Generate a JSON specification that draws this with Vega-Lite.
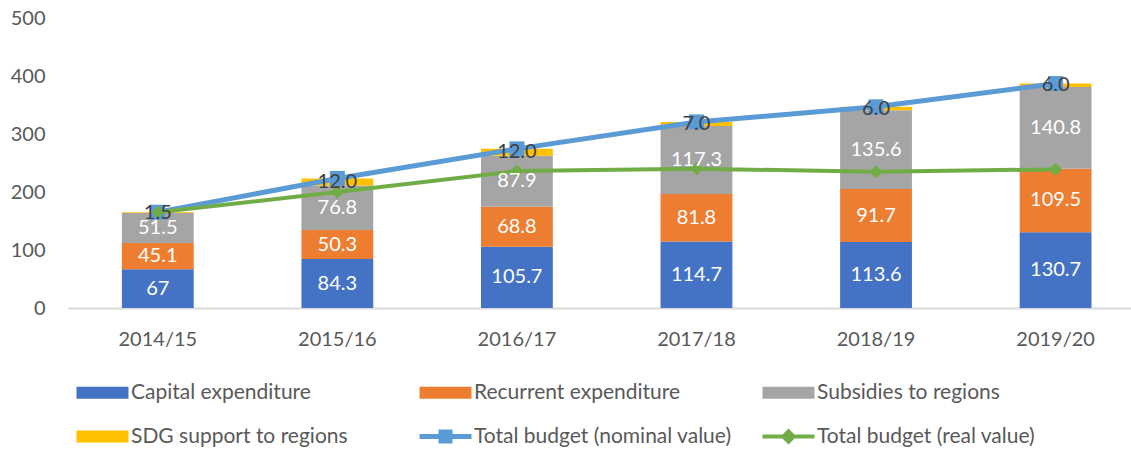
{
  "$schema": "https://vega.github.io/schema/vega-lite/v6.json",
  "width": 1063,
  "height": 290,
  "autosize": {"type": "none"},
  "padding": {"left": 68, "top": 18, "right": 0, "bottom": 142},
  "background": "white",
  "config": {"view": {"stroke": null}, "font": "Lato"},
  "datasets": {
    "bars": [
      {"year": "2014/15", "series": "Capital expenditure", "idx": 1, "value": 67},
      {"year": "2014/15", "series": "Recurrent expenditure", "idx": 2, "value": 45.1},
      {"year": "2014/15", "series": "Subsidies to regions", "idx": 3, "value": 51.5},
      {"year": "2014/15", "series": "SDG support to regions", "idx": 4, "value": 1.5},
      {"year": "2015/16", "series": "Capital expenditure", "idx": 1, "value": 84.3},
      {"year": "2015/16", "series": "Recurrent expenditure", "idx": 2, "value": 50.3},
      {"year": "2015/16", "series": "Subsidies to regions", "idx": 3, "value": 76.8},
      {"year": "2015/16", "series": "SDG support to regions", "idx": 4, "value": 12},
      {"year": "2016/17", "series": "Capital expenditure", "idx": 1, "value": 105.7},
      {"year": "2016/17", "series": "Recurrent expenditure", "idx": 2, "value": 68.8},
      {"year": "2016/17", "series": "Subsidies to regions", "idx": 3, "value": 87.9},
      {"year": "2016/17", "series": "SDG support to regions", "idx": 4, "value": 12},
      {"year": "2017/18", "series": "Capital expenditure", "idx": 1, "value": 114.7},
      {"year": "2017/18", "series": "Recurrent expenditure", "idx": 2, "value": 81.8},
      {"year": "2017/18", "series": "Subsidies to regions", "idx": 3, "value": 117.3},
      {"year": "2017/18", "series": "SDG support to regions", "idx": 4, "value": 7},
      {"year": "2018/19", "series": "Capital expenditure", "idx": 1, "value": 113.6},
      {"year": "2018/19", "series": "Recurrent expenditure", "idx": 2, "value": 91.7},
      {"year": "2018/19", "series": "Subsidies to regions", "idx": 3, "value": 135.6},
      {"year": "2018/19", "series": "SDG support to regions", "idx": 4, "value": 6},
      {"year": "2019/20", "series": "Capital expenditure", "idx": 1, "value": 130.7},
      {"year": "2019/20", "series": "Recurrent expenditure", "idx": 2, "value": 109.5},
      {"year": "2019/20", "series": "Subsidies to regions", "idx": 3, "value": 140.8},
      {"year": "2019/20", "series": "SDG support to regions", "idx": 4, "value": 6}
    ],
    "lines": [
      {"year": "2014/15", "series": "Total budget (nominal value)", "value": 165.1},
      {"year": "2015/16", "series": "Total budget (nominal value)", "value": 223.4},
      {"year": "2016/17", "series": "Total budget (nominal value)", "value": 274.4},
      {"year": "2017/18", "series": "Total budget (nominal value)", "value": 320.8},
      {"year": "2018/19", "series": "Total budget (nominal value)", "value": 346.9},
      {"year": "2019/20", "series": "Total budget (nominal value)", "value": 387.0},
      {"year": "2014/15", "series": "Total budget (real value)", "value": 165.1},
      {"year": "2015/16", "series": "Total budget (real value)", "value": 200},
      {"year": "2016/17", "series": "Total budget (real value)", "value": 236},
      {"year": "2017/18", "series": "Total budget (real value)", "value": 240},
      {"year": "2018/19", "series": "Total budget (real value)", "value": 235},
      {"year": "2019/20", "series": "Total budget (real value)", "value": 239}
    ]
  },
  "encoding": {
    "x": {
      "field": "year", "type": "ordinal",
      "scale": {"paddingInner": 0.6, "paddingOuter": 0.26, "align": 0.577},
      "axis": {"title": null, "labelAngle": 0, "ticks": false, "domainColor": "#D9D9D9", "domainWidth": 2, "labelPadding": 21, "labelFontSize": 20, "labelColor": "#595959", "labelFont": "Lato"}
    }
  },
  "layer": [
    {
      "data": {"name": "bars"},
      "transform": [{"stack": "value", "groupby": ["year"], "sort": [{"field": "idx", "order": "ascending"}], "as": ["v0", "v1"]}],
      "mark": {"type": "bar"},
      "encoding": {
        "y": {"field": "v0", "type": "quantitative", "scale": {"domain": [0, 500]},
              "axis": {"title": null, "values": [0, 100, 200, 300, 400, 500], "grid": false, "domain": false, "ticks": false, "tickSize": 0, "labelPadding": 23, "labelFontSize": 20, "labelColor": "#595959", "labelFont": "Lato"}},
        "y2": {"field": "v1"},
        "color": {
          "field": "series", "type": "nominal",
          "scale": {
            "domain": ["Capital expenditure", "Recurrent expenditure", "Subsidies to regions", "SDG support to regions", "Total budget (nominal value)", "Total budget (real value)"],
            "range": ["#4472C4", "#ED7D31", "#A5A5A5", "#FFC000", "#5B9BD5", "#70AD47"]
          },
          "legend": {
            "title": null, "orient": "none", "legendX": 4, "legendY": 364, "padding": 0,
            "direction": "horizontal",
            "columns": 3, "gridAlign": "all", "columnPadding": 26, "rowPadding": 22,
            "symbolSize": 144, "symbolOffset": 20, "labelOffset": 18, "symbolStrokeWidth": 0,
            "symbolType": "M-4.33,-1H4.33V1H-4.33Z",
            "labelFont": "Lato", "labelFontSize": 21, "labelColor": "#595959", "labelLimit": 400,
            "encode": {
              "symbols": {
                "update": {
                  "shape": [
                    {"test": "datum.value === 'Total budget (nominal value)'", "value": "M-4.33,-0.4H-1.17V-1.17H1.17V-0.4H4.33V0.4H1.17V1.17H-1.17V0.4H-4.33Z"},
                    {"test": "datum.value === 'Total budget (real value)'", "value": "M-4.33,-0.33H-1L0,-1.33L1,-0.33H4.33V0.33H1L0,1.33L-1,0.33H-4.33Z"},
                    {"value": "M-4.33,-1H4.33V1H-4.33Z"}
                  ],
                  "fill": {"scale": "color", "field": "value"},
                  "strokeWidth": {"value": 0}
                }
              }
            }
          }
        },
        "order": {"field": "idx"}
      }
    },
    {
      "data": {"name": "lines"},
      "transform": [{"filter": "datum.series === 'Total budget (nominal value)'"}],
      "mark": {"type": "line", "strokeWidth": 5, "point": {"shape": "square", "size": 225, "filled": true, "opacity": 1}},
      "encoding": {
        "y": {"field": "value", "type": "quantitative"},
        "color": {"field": "series", "type": "nominal"}
      }
    },
    {
      "data": {"name": "lines"},
      "transform": [{"filter": "datum.series === 'Total budget (real value)'"}],
      "mark": {"type": "line", "strokeWidth": 4, "point": {"shape": "diamond", "size": 170, "filled": true, "opacity": 1}},
      "encoding": {
        "y": {"field": "value", "type": "quantitative"},
        "color": {"field": "series", "type": "nominal"}
      }
    },
    {
      "data": {"name": "bars"},
      "transform": [
        {"stack": "value", "groupby": ["year"], "sort": [{"field": "idx", "order": "ascending"}], "as": ["v0", "v1"]},
        {"fold": ["v0", "v1"], "as": ["k", "pos"]},
        {"aggregate": [{"op": "mean", "field": "pos", "as": "mid"}], "groupby": ["year", "series", "idx", "value"]},
        {"filter": "datum.idx < 4"}
      ],
      "mark": {"type": "text", "color": "white", "fontSize": 20, "font": "Lato", "baseline": "middle", "align": "center"},
      "encoding": {
        "y": {"field": "mid", "type": "quantitative"},
        "text": {"field": "value", "type": "quantitative"}
      }
    },
    {
      "data": {"name": "bars"},
      "transform": [
        {"stack": "value", "groupby": ["year"], "sort": [{"field": "idx", "order": "ascending"}], "as": ["v0", "v1"]},
        {"fold": ["v0", "v1"], "as": ["k", "pos"]},
        {"aggregate": [{"op": "mean", "field": "pos", "as": "mid"}], "groupby": ["year", "series", "idx", "value"]},
        {"filter": "datum.idx === 4"}
      ],
      "mark": {"type": "text", "color": "#404040", "fontSize": 20, "font": "Lato", "baseline": "middle", "align": "center"},
      "encoding": {
        "y": {"field": "mid", "type": "quantitative"},
        "text": {"field": "value", "type": "quantitative", "format": ".1f"}
      }
    }
  ]
}
